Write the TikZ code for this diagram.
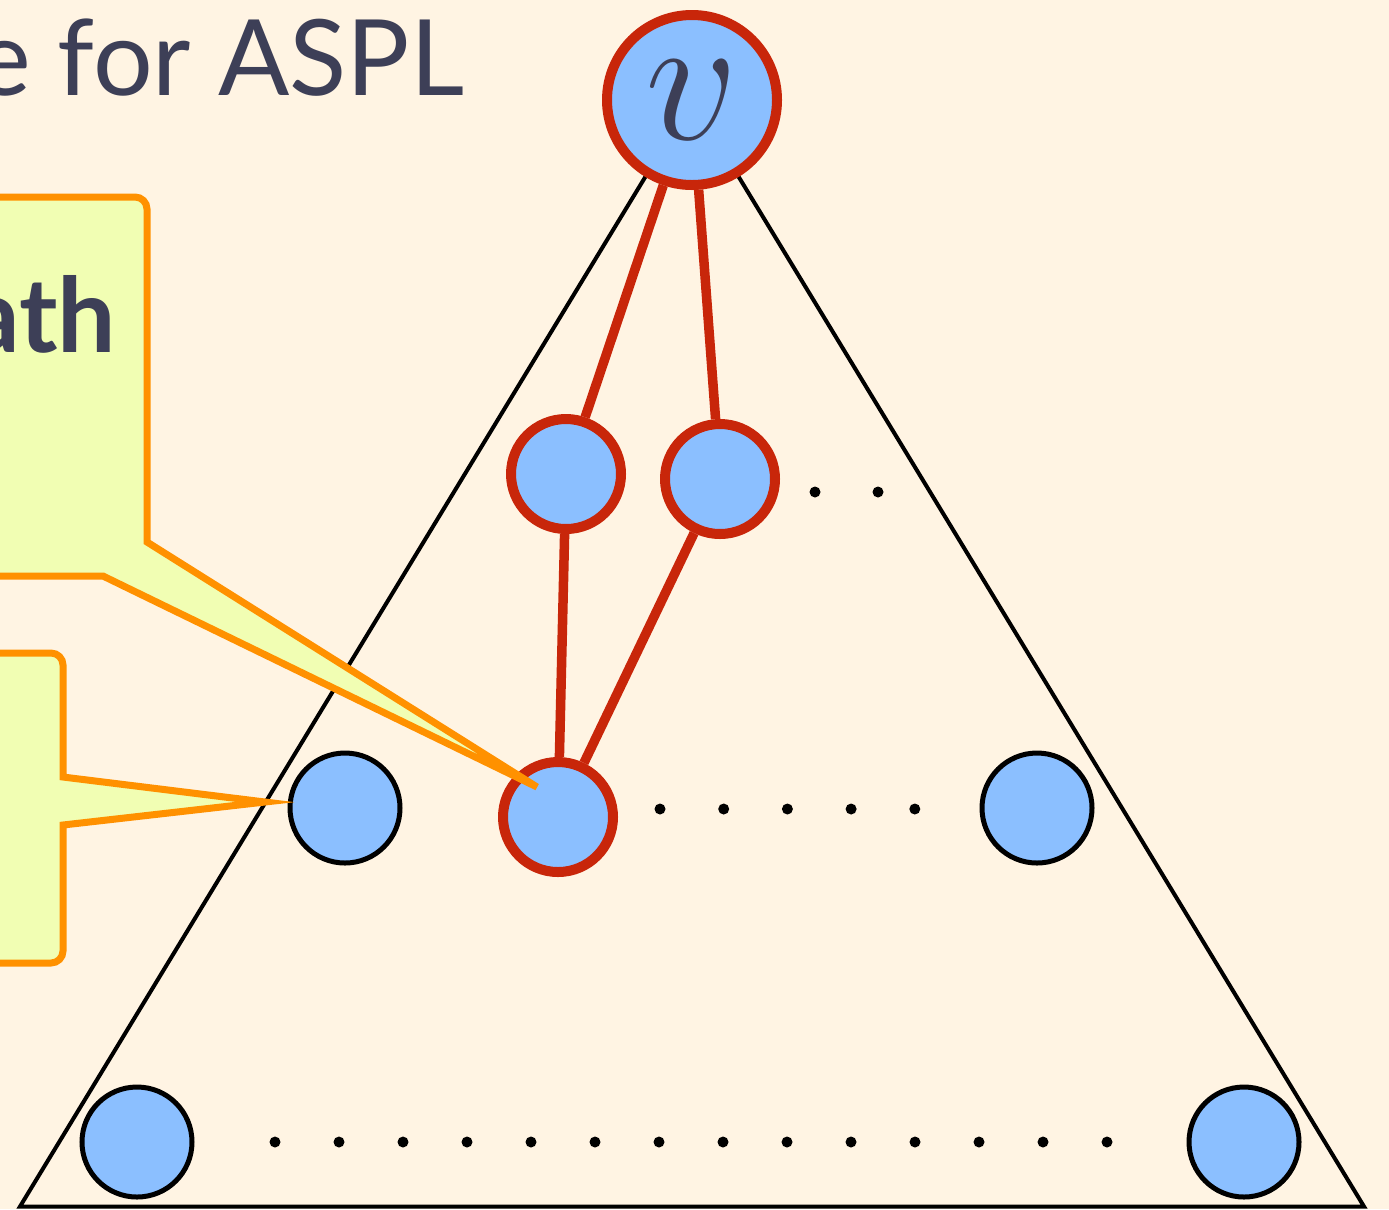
\documentclass[tikz,border=0pt]{standalone}
\usepackage{fix-cm}
\usepackage{fontspec}
\setmainfont{Lato}
\usetikzlibrary{calc}
\definecolor{slidebg}{HTML}{FFF4E3}
\definecolor{nodeblue}{HTML}{8BBFFF}
\definecolor{pathred}{HTML}{C8260A}
\definecolor{boxorange}{HTML}{FF9100}
\definecolor{boxfill}{HTML}{F1FEB3}
\definecolor{textgray}{HTML}{3D3F57}
\begin{document}
\begin{tikzpicture}[
  vert/.style={circle, draw=black, line width=0.05cm, fill=nodeblue, minimum size=1.10cm, inner sep=0pt},
  onpath/.style={vert, draw=pathred, line width=0.1cm},
  pathedge/.style={draw=pathred, line width=0.095cm},
  callout/.style={draw=boxorange, fill=boxfill, line width=0.07cm, line join=miter}]
\useasboundingbox (0,0) rectangle (13.89,-12.09);
\clip (0,0) rectangle (13.89,-12.09);
\fill[slidebg] (0,0) rectangle (13.89,-12.09);
\node[anchor=base east, inner sep=0pt, text=textgray, font=\fontsize{30}{30}\selectfont] (title) at (4.65,-0.95) {e for ASPL};
% tree outline
\coordinate (apex) at (6.92,-1.00);
\coordinate (bl) at (0.20,-12.065);
\coordinate (br) at (13.64,-12.065);
\draw[line width=0.04cm] (apex) -- (bl) -- (br) -- cycle;
% vertices
\node[onpath, minimum size=1.70cm, font=\fontsize{52}{52}\selectfont, text=textgray] (v) at (apex) {$v$};
\node[onpath] (n11) at (5.66,-4.74) {};
\node[onpath] (n12) at (7.20,-4.79) {};
\node[vert] (n2a) at (3.45,-8.08) {};
\node[onpath] (n21) at (5.58,-8.17) {};
\node[vert] (n2b) at (10.37,-8.08) {};
\node[vert] (n3a) at (1.37,-11.42) {};
\node[vert] (n3b) at (12.44,-11.42) {};
\foreach \x in {8.15,8.78}
  \fill (\x,-4.92) circle (0.055);
\foreach \k in {0,...,4}
  \fill (6.60+0.637*\k,-8.09) circle (0.055);
\foreach \k in {0,...,13}
  \fill (2.75+0.64*\k,-11.42) circle (0.055);
% shortest paths
\draw[pathedge] (v) -- (n11);
\draw[pathedge] (v) -- (n12);
\draw[pathedge] (n11) -- (n21);
\draw[pathedge] (n12) -- (n21);
% callouts
\coordinate (tipa) at (5.37,-7.87);
\coordinate (tipb) at (2.65,-8.02);
\draw[callout] (-1,-1.97) [rounded corners=0.12cm] -- (1.47,-1.97) [sharp corners] -- (1.47,-5.42) -- (tipa) -- (1.03,-5.76) -- (-1,-5.76) -- cycle;
\node[anchor=base east, inner sep=0pt, text=textgray, font=\bfseries\fontsize{29.5}{30}\selectfont] (lbl) at (1.17,-3.52) {ath};
\draw[callout] (-1,-6.53) [rounded corners=0.12cm] -- (0.63,-6.53) [sharp corners] -- (0.63,-7.77) -- (tipb) -- (0.63,-8.25) [rounded corners=0.12cm] -- (0.63,-9.63) -- (-1,-9.63) -- cycle;
\end{tikzpicture}
\end{document}
